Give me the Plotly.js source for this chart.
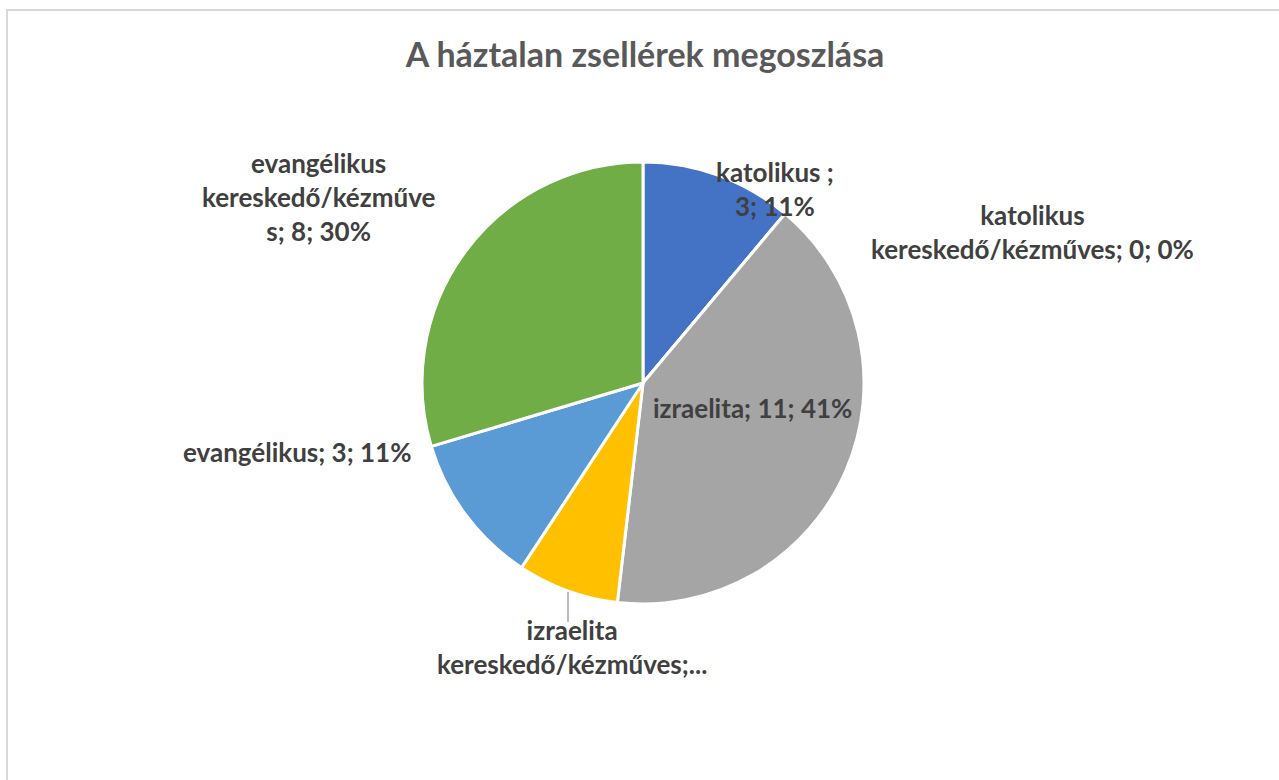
<!DOCTYPE html>
<html>
<head>
<meta charset="utf-8">
<script src="https://cdn.plot.ly/plotly-3.0.1.min.js"></script>
<style>
  html, body { margin: 0; padding: 0; background: #fff; overflow: hidden; }
  #chart { width: 1279px; height: 780px; }
  #frame { position: absolute; left: 6px; top: 9px; width: 1290px; height: 800px;
           border: 2px solid #d9d9d9; pointer-events: none; box-sizing: border-box; }
</style>
</head>
<body>
<div id="chart"></div>
<div id="frame"></div>
<script>
const categories = [
  "katolikus ",
  "katolikus kereskedő/kézműves",
  "izraelita",
  "izraelita kereskedő/kézműves",
  "evangélikus",
  "evangélikus kereskedő/kézműves"
];
const counts = [3, 0, 11, 2, 3, 8];
const colors = ["#4472C4", "#ED7D31", "#A5A5A5", "#FFC000", "#5B9BD5", "#70AD47"];

// label text as Excel wrapped / cut it
const labelLines = [
  "katolikus ;<br>3; 11%",
  "katolikus<br>kereskedő/kézműves; 0; 0%",
  "izraelita; 11; 41%",
  "izraelita<br>kereskedő/kézműves;...",
  "evangélikus; 3; 11%",
  "evangélikus<br>kereskedő/kézműve<br>s; 8; 30%"
];
// label centres in pixels
const labelPos = [[775, 189], [1032, 232], [752, 408], [572, 647], [297, 452], [318, 197]];

const W = 1279, H = 780;
const px = x => x / W;
const py = y => 1 - y / H;

const cx = 643, cy = 383, r = 221;

const trace = {
  type: "pie",
  labels: categories,
  values: counts,
  sort: false,
  direction: "clockwise",
  rotation: 0,
  textinfo: "none",
  hoverinfo: "label+value+percent",
  marker: { colors: colors, line: { color: "#ffffff", width: 3 } },
  domain: { x: [px(cx - r), px(cx + r)], y: [py(cy + r), py(cy - r)] },
  showlegend: false
};

const annotations = labelLines.map((t, i) => ({
  xref: "paper", yref: "paper",
  x: px(labelPos[i][0]), y: py(labelPos[i][1]),
  xanchor: "center", yanchor: "middle",
  text: "<b>" + t + "</b>",
  showarrow: false,
  align: "center",
  font: { family: "Lato, sans-serif", size: 26, color: "#404040" }
}));

const layout = {
  width: W, height: H,
  margin: { l: 0, r: 0, t: 0, b: 0 },
  paper_bgcolor: "rgba(0,0,0,0)",
  title: {
    text: "<b>A háztalan zsellérek megoszlása</b>",
    x: px(645), y: py(55), xanchor: "center", yanchor: "middle",
    font: { family: "Lato, sans-serif", size: 34, color: "#595959" }
  },
  annotations: annotations,
  shapes: [{
    type: "line", xref: "paper", yref: "paper",
    x0: px(568), x1: px(568), y0: py(592), y1: py(622),
    line: { color: "#a6a6a6", width: 1.5 }
  }]
};

Plotly.newPlot("chart", [trace], layout, { displayModeBar: false });
</script>
</body>
</html>
